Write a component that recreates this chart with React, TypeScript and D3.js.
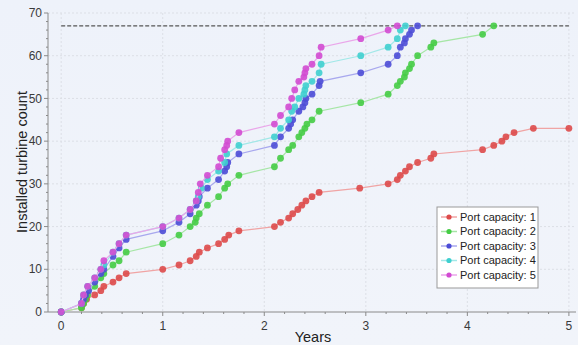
import React from "react";
import * as d3 from "d3";

const seriesNames = ["Port capacity: 1", "Port capacity: 2", "Port capacity: 3", "Port capacity: 4", "Port capacity: 5"];
const seriesColors = ["#dd4a4a", "#45cc45", "#4c4cd6", "#3fcfcf", "#d24bd2"];
const lineColors = ["#f0a4a4", "#a6e6a6", "#a8a8ee", "#a2e8e8", "#eaa6ea"];

const s1Years = [0, 0.2, 0.22, 0.25, 0.33, 0.39, 0.42, 0.51, 0.57, 0.64, 1.0, 1.16, 1.27, 1.33, 1.36, 1.44, 1.55, 1.61, 1.65, 1.75, 2.1, 2.16, 2.24, 2.28, 2.33, 2.37, 2.41, 2.47, 2.54, 2.94, 3.22, 3.31, 3.34, 3.39, 3.43, 3.51, 3.64, 3.67, 4.15, 4.26, 4.34, 4.38, 4.46, 4.65, 5.0];
const s1Count = [0, 1, 2, 3, 4, 5, 6, 7, 8, 9, 10, 11, 12, 13, 14, 15, 16, 17, 18, 19, 20, 21, 22, 23, 24, 25, 26, 27, 28, 29, 30, 31, 32, 33, 34, 35, 36, 37, 38, 39, 40, 41, 42, 43, 43];

const s2Years = [0, 0.2, 0.22, 0.24, 0.26, 0.33, 0.39, 0.42, 0.51, 0.57, 0.64, 1.0, 1.16, 1.27, 1.32, 1.33, 1.36, 1.44, 1.55, 1.61, 1.64, 1.75, 2.1, 2.16, 2.24, 2.28, 2.34, 2.37, 2.4, 2.42, 2.47, 2.54, 2.95, 3.22, 3.31, 3.34, 3.38, 3.39, 3.43, 3.45, 3.51, 3.64, 3.67, 4.15, 4.26];
const s2Count = [0, 1, 2, 3, 4, 6, 8, 9, 11, 12, 14, 16, 18, 20, 21, 22, 23, 25, 27, 29, 30, 32, 34, 36, 38, 39, 41, 42, 43, 44, 45, 47, 49, 51, 53, 54, 55, 56, 57, 58, 60, 62, 63, 65, 67];

const s3Years = [0, 0.2, 0.22, 0.24, 0.27, 0.33, 0.39, 0.42, 0.51, 0.57, 0.64, 1.0, 1.16, 1.27, 1.33, 1.35, 1.36, 1.44, 1.55, 1.61, 1.63, 1.64, 1.75, 2.1, 2.16, 2.24, 2.26, 2.28, 2.34, 2.38, 2.4, 2.41, 2.47, 2.54, 2.55, 2.95, 3.22, 3.31, 3.34, 3.38, 3.39, 3.43, 3.45, 3.51];
const s3Count = [0, 2, 3, 4, 5, 7, 9, 10, 13, 15, 17, 19, 21, 23, 25, 26, 27, 29, 31, 33, 34, 35, 37, 39, 41, 43, 44, 45, 47, 48, 49, 50, 51, 53, 54, 56, 58, 60, 62, 63, 64, 65, 66, 67];

const s4Years = [0, 0.2, 0.22, 0.26, 0.33, 0.39, 0.42, 0.51, 0.57, 0.64, 1.0, 1.16, 1.27, 1.33, 1.35, 1.38, 1.44, 1.55, 1.61, 1.63, 1.75, 2.1, 2.16, 2.24, 2.27, 2.3, 2.34, 2.39, 2.4, 2.41, 2.47, 2.54, 2.56, 2.95, 3.22, 3.31, 3.34, 3.39];
const s4Count = [0, 2, 4, 6, 8, 10, 11, 14, 16, 18, 20, 22, 24, 26, 27, 29, 31, 33, 35, 37, 39, 41, 43, 45, 47, 48, 50, 51, 52, 53, 54, 56, 58, 60, 62, 64, 66, 67];

const s5Years = [0, 0.2, 0.22, 0.26, 0.33, 0.39, 0.42, 0.51, 0.57, 0.64, 1.0, 1.16, 1.27, 1.33, 1.35, 1.37, 1.44, 1.55, 1.57, 1.61, 1.63, 1.64, 1.75, 2.1, 2.16, 2.24, 2.27, 2.3, 2.34, 2.39, 2.4, 2.41, 2.47, 2.54, 2.56, 2.95, 3.22, 3.31];
const s5Count = [0, 2, 4, 6, 8, 10, 12, 14, 16, 18, 20, 22, 24, 26, 28, 30, 32, 34, 36, 38, 39, 40, 42, 44, 46, 48, 50, 52, 54, 55, 56, 57, 58, 60, 62, 64, 66, 67];

const totalTurbines = 67;
const xTicks = [0, 1, 2, 3, 4, 5];
const yTicks = [0, 10, 20, 30, 40, 50, 60, 70];

const W = 578;
const H = 345;
const font = "'Liberation Sans', Arial, sans-serif";

export default function App() {
  const x = d3.scaleLinear().domain([-0.13, 5.07]).range([48, 576]);
  const y = d3.scaleLinear().domain([0, 70]).range([312, 13]);
  const allYears = [s1Years, s2Years, s3Years, s4Years, s5Years];
  const allCounts = [s1Count, s2Count, s3Count, s4Count, s5Count];
  const series = allYears.map((ys, i) => ys.map((t, j) => [t, allCounts[i][j]] as [number, number]));
  const line = d3.line<[number, number]>().x((d) => x(d[0])).y((d) => y(d[1]));
  const xMinor = d3.range(0, 26).map((i) => i * 0.2).filter((v) => Math.abs(v - Math.round(v)) > 1e-6);
  const yMinor = d3.range(0, 36).map((i) => i * 2).filter((v) => v % 10 !== 0 && v <= 70);
  const legendX = 437;
  const legendY = 207;
  return (
    <svg width={W} height={H} style={{ position: "absolute", left: 0, top: 0 }} fontFamily={font}>
      <defs>
        <linearGradient id="bg" x1="0" y1="0" x2="0" y2="1">
          <stop offset="0" stopColor="#eef2fa" />
          <stop offset="1" stopColor="#f1f4fa" />
        </linearGradient>
      </defs>
      <rect x={0} y={0} width={W} height={H} fill="url(#bg)" />
      {xTicks.map((t) => (
        <line key={"gx" + t} x1={x(t)} x2={x(t)} y1={y(70)} y2={y(0)} stroke="#dcdfe6" strokeDasharray="2,2" />
      ))}
      {yTicks.slice(1).map((t) => (
        <line key={"gy" + t} x1={48} x2={576} y1={y(t)} y2={y(t)} stroke="#dcdfe6" strokeDasharray="2,2" />
      ))}
      <line x1={x(0)} x2={x(5)} y1={y(totalTurbines)} y2={y(totalTurbines)} stroke="#555" strokeWidth={1.2} strokeDasharray="4,2" />
      <line x1={48} x2={48} y1={y(70)} y2={y(0)} stroke="#8a8a8a" />
      <line x1={48} x2={576} y1={y(0)} y2={y(0)} stroke="#8a8a8a" />
      {yTicks.map((t) => (
        <g key={"yt" + t}>
          <line x1={44} x2={48} y1={y(t)} y2={y(t)} stroke="#8a8a8a" />
          <text x={42} y={y(t)} dy="0.35em" textAnchor="end" fontSize={12} fill="#3a3a3a">{t}</text>
        </g>
      ))}
      {yMinor.map((t) => (
        <line key={"ym" + t} x1={46} x2={48} y1={y(t)} y2={y(t)} stroke="#8a8a8a" />
      ))}
      {xTicks.map((t) => (
        <g key={"xt" + t}>
          <line x1={x(t)} x2={x(t)} y1={312} y2={316} stroke="#8a8a8a" />
          <text x={x(t)} y={330} textAnchor="middle" fontSize={12} fill="#3a3a3a">{t}</text>
        </g>
      ))}
      {xMinor.map((t) => (
        <line key={"xm" + t} x1={x(t)} x2={x(t)} y1={312} y2={314} stroke="#8a8a8a" />
      ))}
      <text x={313} y={342} textAnchor="middle" fontSize={14.5} fill="#222">Years</text>
      <text transform={`translate(27,162) rotate(-90)`} textAnchor="middle" fontSize={14.5} fill="#222">Installed turbine count</text>
      {series.map((s, i) => (
        <g key={"s" + i}>
          <path d={line(s) || ""} fill="none" stroke={lineColors[i]} strokeWidth={1.2} />
          {s.map((d, j) => (
            <circle key={j} cx={x(d[0])} cy={y(d[1])} r={3.4} fill={seriesColors[i]} fillOpacity={0.9} />
          ))}
        </g>
      ))}
      <rect x={legendX} y={legendY} width={101} height={81} fill="#fff" stroke="#999" />
      {seriesNames.map((n, i) => {
        const ly = legendY + 10 + i * 14.5;
        return (
          <g key={"l" + i}>
            <line x1={legendX + 4} x2={legendX + 20} y1={ly} y2={ly} stroke={lineColors[i]} strokeWidth={1.5} />
            <circle cx={legendX + 12} cy={ly} r={2.6} fill={seriesColors[i]} />
            <text x={legendX + 23} y={ly} dy="0.35em" fontSize={11} fill="#222">{n}</text>
          </g>
        );
      })}
    </svg>
  );
}
